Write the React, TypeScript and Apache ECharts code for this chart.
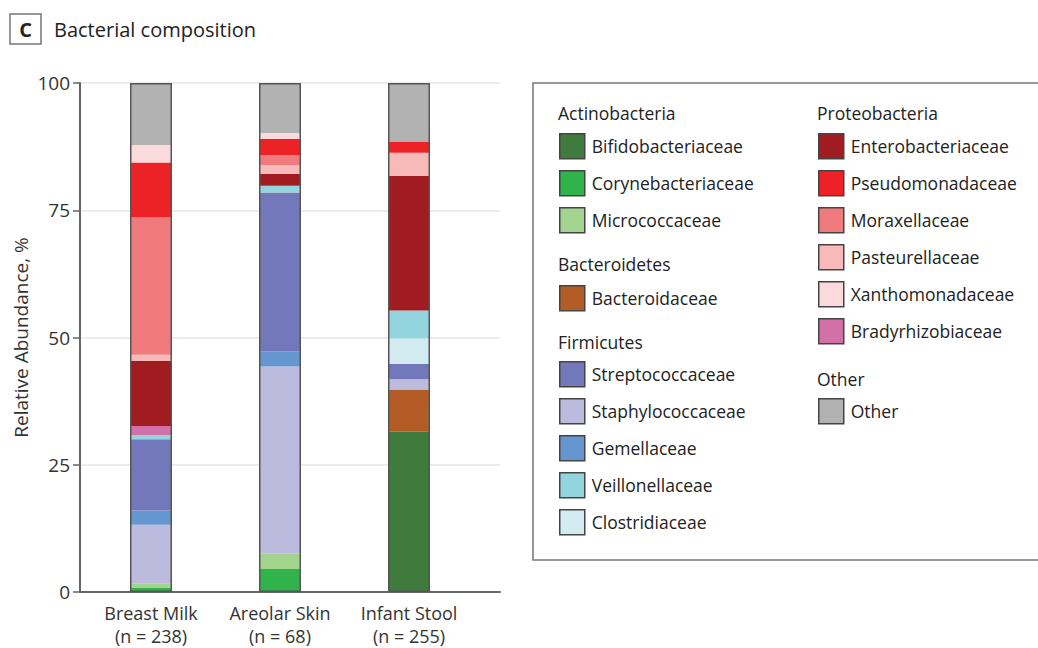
import React, { useEffect, useRef } from "react";
import * as echarts from "echarts";

const categories = ["Breast Milk\n(n = 238)", "Areolar Skin\n(n = 68)", "Infant Stool\n(n = 255)"];
const yTicks = [0, 25, 50, 75, 100];

// stacked bottom -> top; values per category [Breast Milk, Areolar Skin, Infant Stool]
const bifidobacteriaceae = [0, 0, 31.5];
const corynebacteriaceae = [0.8, 4.5, 0];
const micrococcaceae = [0.9, 3.0, 0];
const bacteroidaceae = [0, 0, 8.3];
const staphylococcaceae = [11.5, 36.8, 2.0];
const gemellaceae = [2.8, 3.0, 0];
const streptococcaceae = [14.0, 31.2, 3.0];
const clostridiaceae = [0, 0, 5.0];
const veillonellaceae = [0.8, 1.3, 5.5];
const bradyrhizobiaceae = [1.8, 0, 0];
const enterobacteriaceae = [12.8, 2.3, 26.5];
const pasteurellaceae = [1.2, 1.8, 4.5];
const moraxellaceae = [27.0, 1.9, 0];
const pseudomonadaceae = [10.8, 3.2, 2.2];
const xanthomonadaceae = [3.4, 1.2, 0];
const other = [12.2, 9.8, 11.5];

const FONT = "'Open Sans'";

type S = { name: string; data: number[]; color: string };
const seriesDefs: S[] = [
  { name: "Bifidobacteriaceae", data: bifidobacteriaceae, color: "#3e7b3c" },
  { name: "Corynebacteriaceae", data: corynebacteriaceae, color: "#2fb34a" },
  { name: "Micrococcaceae", data: micrococcaceae, color: "#a3d48f" },
  { name: "Bacteroidaceae", data: bacteroidaceae, color: "#b35c25" },
  { name: "Staphylococcaceae", data: staphylococcaceae, color: "#bcbbdd" },
  { name: "Gemellaceae", data: gemellaceae, color: "#6497d0" },
  { name: "Streptococcaceae", data: streptococcaceae, color: "#7278b9" },
  { name: "Clostridiaceae", data: clostridiaceae, color: "#d3ecf2" },
  { name: "Veillonellaceae", data: veillonellaceae, color: "#93d5de" },
  { name: "Bradyrhizobiaceae", data: bradyrhizobiaceae, color: "#d270a8" },
  { name: "Enterobacteriaceae", data: enterobacteriaceae, color: "#a01c20" },
  { name: "Pasteurellaceae", data: pasteurellaceae, color: "#f8b9b9" },
  { name: "Moraxellaceae", data: moraxellaceae, color: "#f07b7c" },
  { name: "Pseudomonadaceae", data: pseudomonadaceae, color: "#ec2227" },
  { name: "Xanthomonadaceae", data: xanthomonadaceae, color: "#fadadd" },
  { name: "Other", data: other, color: "#b2b2b2" },
];

const legendGroups = [
  { header: "Actinobacteria", items: ["Bifidobacteriaceae", "Corynebacteriaceae", "Micrococcaceae"], left: 559, top: 133, hy: 113 },
  { header: "Bacteroidetes", items: ["Bacteroidaceae"], left: 559, top: 285, hy: 264 },
  { header: "Firmicutes", items: ["Streptococcaceae", "Staphylococcaceae", "Gemellaceae", "Veillonellaceae", "Clostridiaceae"], left: 559, top: 361, hy: 342 },
  { header: "Proteobacteria", items: ["Enterobacteriaceae", "Pseudomonadaceae", "Moraxellaceae", "Pasteurellaceae", "Xanthomonadaceae", "Bradyrhizobiaceae"], left: 818, top: 133, hy: 113 },
  { header: "Other", items: ["Other"], left: 818, top: 398, hy: 379 },
];

export default function App() {
  const ref = useRef<HTMLDivElement>(null);
  useEffect(() => {
    if (!ref.current) return;
    const chart = echarts.init(ref.current, undefined, { renderer: "svg" });
    const totals = categories.map((_, i) => seriesDefs.reduce((a, s) => a + s.data[i], 0));
    const option: any = {
      animation: false,
      backgroundColor: "#ffffff",
      textStyle: { fontFamily: FONT },
      grid: [
        { left: 80, right: 538, top: 83, bottom: 56 },
        { left: 86.5, width: 387, top: 83, bottom: 56 },
      ],
      xAxis: [
        {
          gridIndex: 0, type: "value", min: 0, max: 1,
          axisLine: { show: true, lineStyle: { color: "#666", width: 2 } },
          axisTick: { show: false }, axisLabel: { show: false }, splitLine: { show: false },
        },
        {
          gridIndex: 1, type: "category", data: categories,
          axisLine: { show: false }, axisTick: { show: false },
          axisLabel: { interval: 0, fontSize: 18, color: "#333", lineHeight: 23, margin: 9, fontFamily: FONT },
        },
      ],
      yAxis: [
        {
          gridIndex: 0, type: "value", min: 0, max: 100, interval: 25,
          name: "Relative Abundance, %", nameLocation: "middle", nameGap: 50,
          nameTextStyle: { fontSize: 19, color: "#333", fontFamily: FONT },
          axisLine: { show: true, lineStyle: { color: "#666", width: 2 } },
          axisTick: { show: true, length: 7, lineStyle: { color: "#666", width: 1.5 } },
          axisLabel: { fontSize: 19, color: "#333", margin: 10, fontFamily: FONT,
            formatter: (v: number) => (yTicks.includes(v) ? String(v) : "") },
          splitLine: { show: true, lineStyle: { color: "#e6e6e6", width: 1.5 } },
        },
        { gridIndex: 1, type: "value", min: 0, max: 100, show: false },
      ],
      legend: legendGroups.map((g) => ({
        data: g.items, left: g.left, top: g.top, orient: "vertical", padding: 0,
        itemWidth: 25, itemHeight: 25, itemGap: 10.5, icon: "rect", selectedMode: false,
        itemStyle: { borderColor: "#444", borderWidth: 1.5 },
        textStyle: { fontSize: 17.5, color: "#222", fontFamily: FONT, padding: [0, 0, 0, 2] },
      })),
      graphic: [
        { type: "rect", shape: { x: 533, y: 83, width: 520, height: 477 }, style: { fill: "none", stroke: "#777", lineWidth: 1.5 }, silent: true },
        { type: "rect", shape: { x: 10, y: 14, width: 31, height: 30 }, style: { fill: "none", stroke: "#777", lineWidth: 1.5 }, silent: true },
        { type: "text", x: 25.5, y: 29.5, style: { text: "C", fill: "#222", font: `bold 20px ${FONT}`, align: "center", verticalAlign: "middle" }, silent: true },
        { type: "text", x: 54, y: 29.5, style: { text: "Bacterial composition", fill: "#222", font: `20px ${FONT}`, align: "left", verticalAlign: "middle" }, silent: true },
        ...legendGroups.map((g) => ({
          type: "text", x: g.left - 1, y: g.hy,
          style: { text: g.header, fill: "#222", font: `17.5px ${FONT}`, align: "left", verticalAlign: "middle" }, silent: true,
        })),
      ],
      series: [
        ...seriesDefs.map((s) => ({
          name: s.name, type: "bar", stack: "total", xAxisIndex: 1, yAxisIndex: 1,
          data: s.data, barWidth: 42, barGap: "-100%",
          itemStyle: { color: s.color }, emphasis: { disabled: true },
        })),
        {
          name: "outline", type: "bar", xAxisIndex: 1, yAxisIndex: 1, data: totals,
          barWidth: 42, barGap: "-100%", z: 5, silent: true,
          itemStyle: { color: "rgba(0,0,0,0)", borderColor: "#555", borderWidth: 1.5 },
        },
      ],
    };
    chart.setOption(option);
    return () => chart.dispose();
  }, []);
  return <div ref={ref} style={{ position: "fixed", left: 0, top: 0, width: 1038, height: 648 }} />;
}
